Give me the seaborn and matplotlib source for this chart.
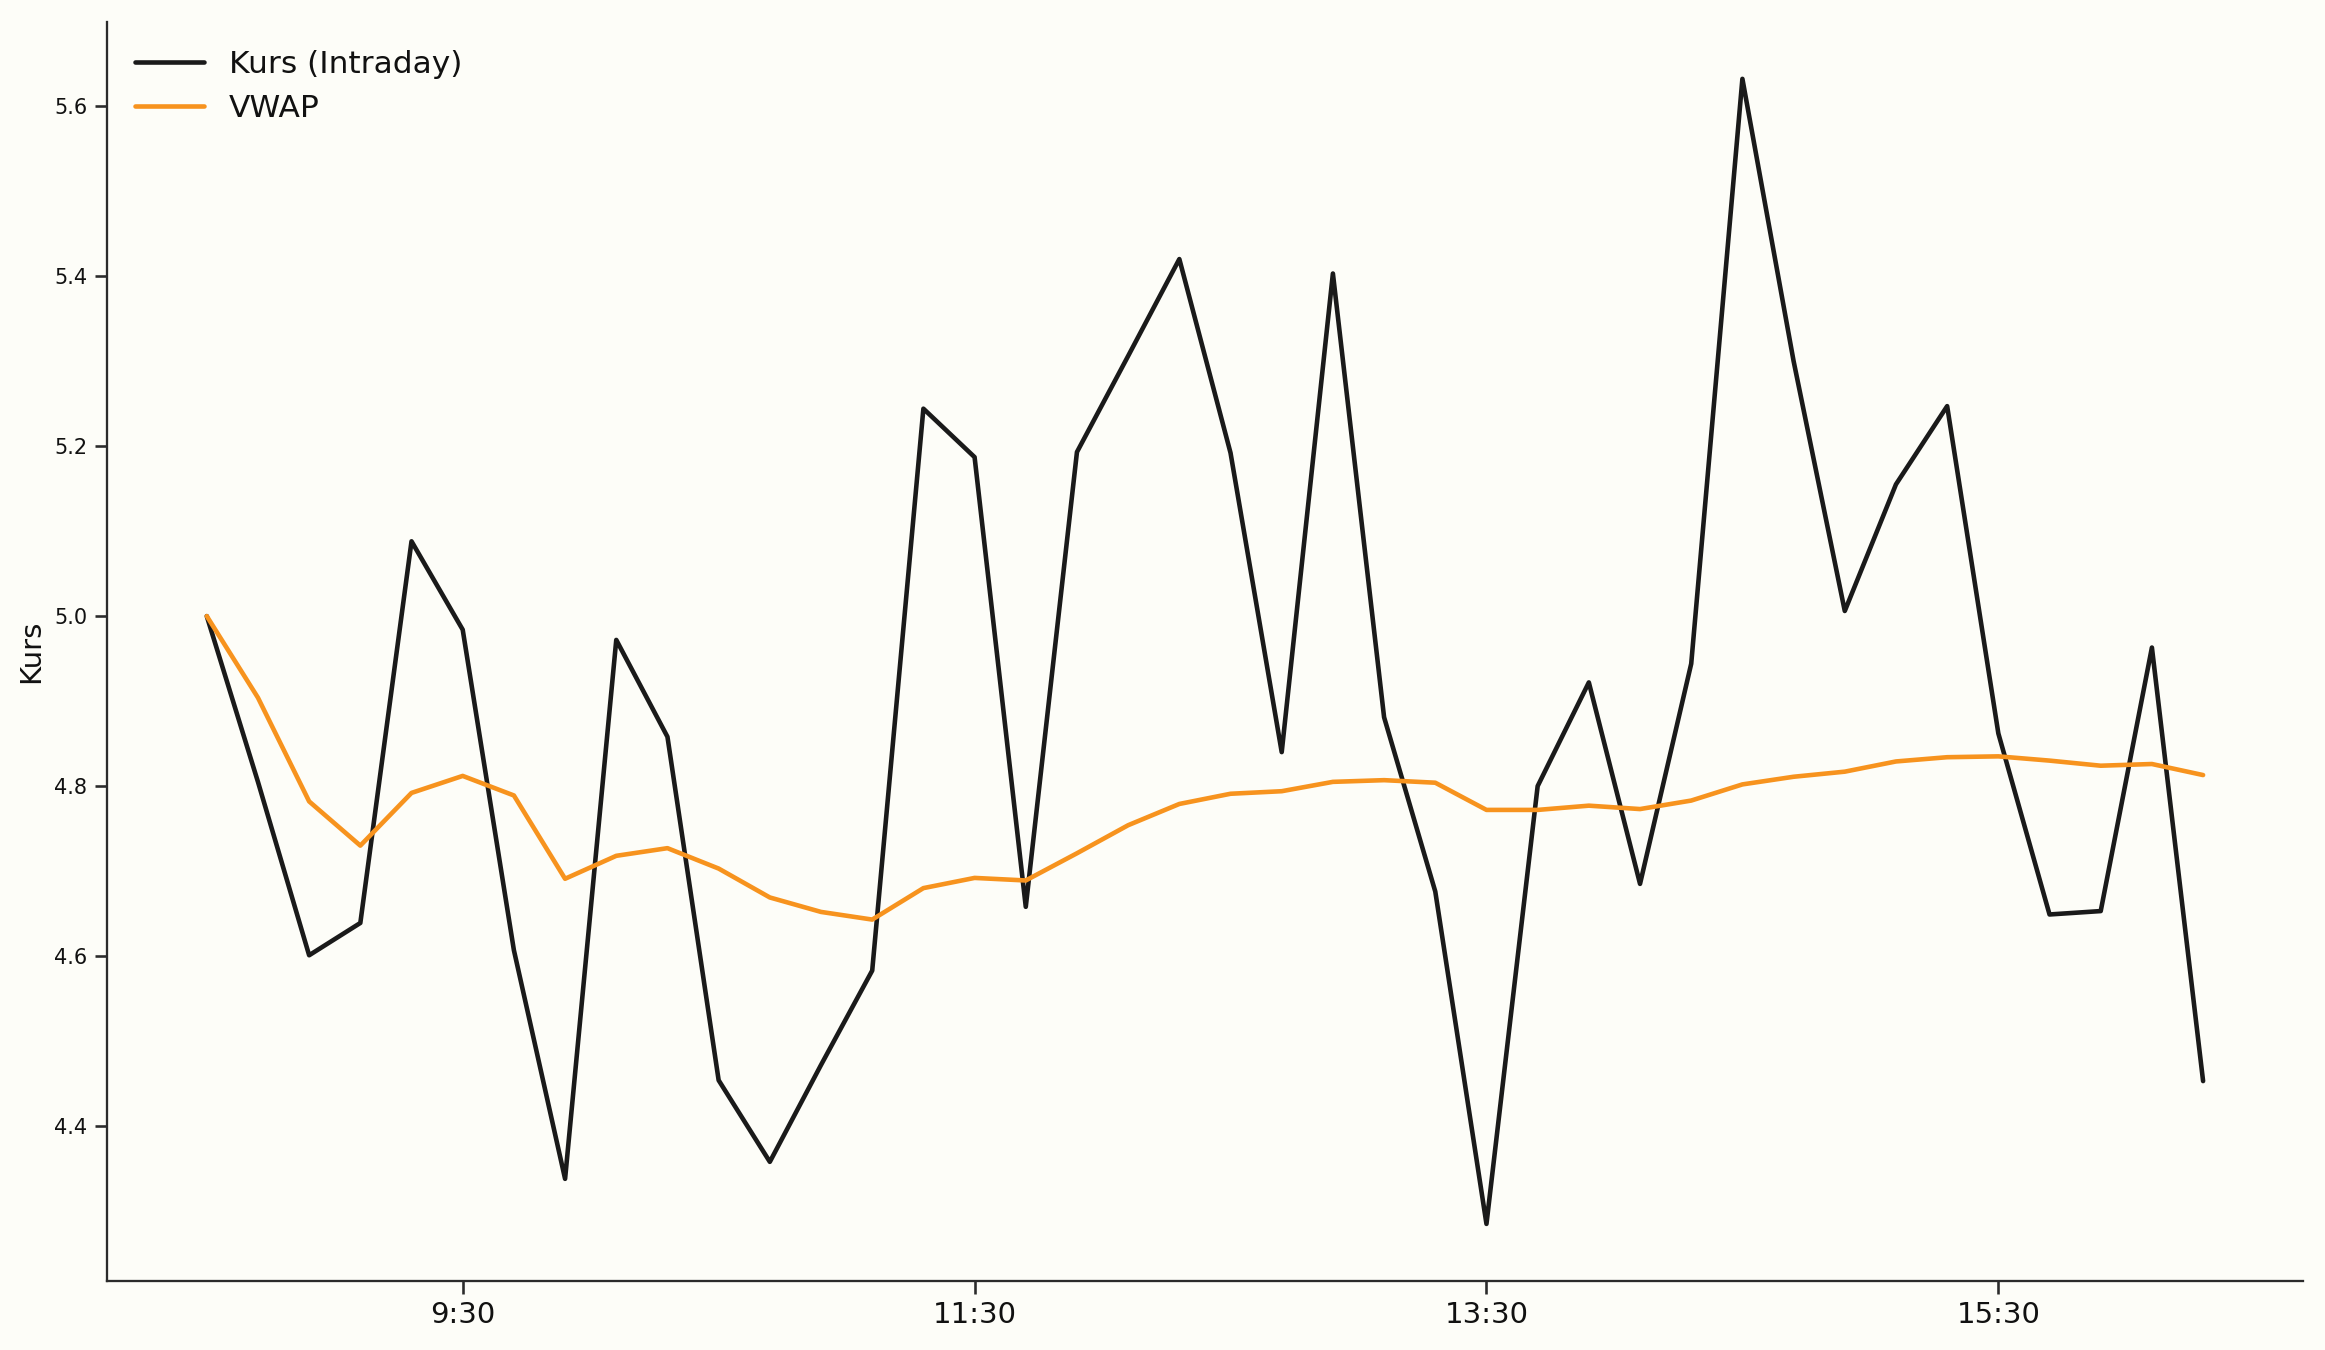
"""Intraday price vs. VWAP line chart."""

import matplotlib
matplotlib.use("Agg")

import matplotlib.pyplot as plt
import pandas as pd
import seaborn as sns

# Intraday price, one sample every 12 minutes from 8:30
kurs = [
    5.000, 4.805, 4.601, 4.639, 5.088, 4.984, 4.607, 4.338, 4.972, 4.858,
    4.454, 4.358, 4.472, 4.583, 5.244, 5.187, 4.658, 5.193, 5.306, 5.420,
    5.192, 4.840, 5.403, 4.881, 4.676, 4.285, 4.800, 4.922, 4.685, 4.944,
    5.632, 5.300, 5.006, 5.155, 5.247, 4.862, 4.649, 4.653, 4.963, 4.453,
]
vwap = [
    5.000, 4.904, 4.782, 4.730, 4.792, 4.812, 4.789, 4.691, 4.718, 4.727,
    4.703, 4.669, 4.652, 4.643, 4.680, 4.692, 4.689, 4.721, 4.754, 4.779,
    4.791, 4.794, 4.805, 4.807, 4.804, 4.772, 4.772, 4.777, 4.773, 4.783,
    4.802, 4.811, 4.817, 4.829, 4.834, 4.835, 4.830, 4.824, 4.826, 4.813,
]
start_time = "08:30"
step = "12min"
tick_labels = ["9:30", "11:30", "13:30", "15:30"]

BG = "#fdfdf8"
BLACK = "#1a1a1a"
ORANGE = "#f7931e"

sns.set_theme(style="ticks")
plt.rcParams.update({
    "font.family": ["DejaVu Sans"],
    "figure.facecolor": BG,
    "axes.facecolor": BG,
    "savefig.facecolor": BG,
    "text.color": "#111111",
    "axes.labelcolor": "#111111",
    "axes.edgecolor": "#2b2b2b",
    "axes.linewidth": 1.1,
    "xtick.color": "#2b2b2b",
    "ytick.color": "#2b2b2b",
    "xtick.labelcolor": "#111111",
    "ytick.labelcolor": "#111111",
})

day = "2024-01-02"
times = pd.date_range(f"{day} {start_time}", periods=len(kurs), freq=step)
df = pd.DataFrame({"Zeit": times, "Kurs": kurs, "VWAP": vwap})

fig, ax = plt.subplots(figsize=(15.5, 9), dpi=150)
sns.lineplot(data=df, x="Zeit", y="Kurs", color=BLACK, lw=2.2,
             label="Kurs (Intraday)", ax=ax)
sns.lineplot(data=df, x="Zeit", y="VWAP", color=ORANGE, lw=2.2,
             label="VWAP", ax=ax)

tick_pos = [pd.Timestamp(f"{day} {t}") for t in tick_labels]
ax.set_xticks(tick_pos)
ax.set_xticklabels(tick_labels, fontsize=14)
ax.tick_params(axis="y", labelsize=10)
ax.set_xlabel("")
ax.set_ylabel("Kurs", fontsize=14)
ax.yaxis.set_major_formatter(matplotlib.ticker.FormatStrFormatter("%.1f"))

sns.despine(ax=ax)
ax.legend(loc="upper left", frameon=False, fontsize=15,
          handlelength=2.2, labelspacing=0.5)

fig.subplots_adjust(left=0.046, right=0.9905, top=0.984, bottom=0.051)
fig.savefig("out.png", dpi=150)
